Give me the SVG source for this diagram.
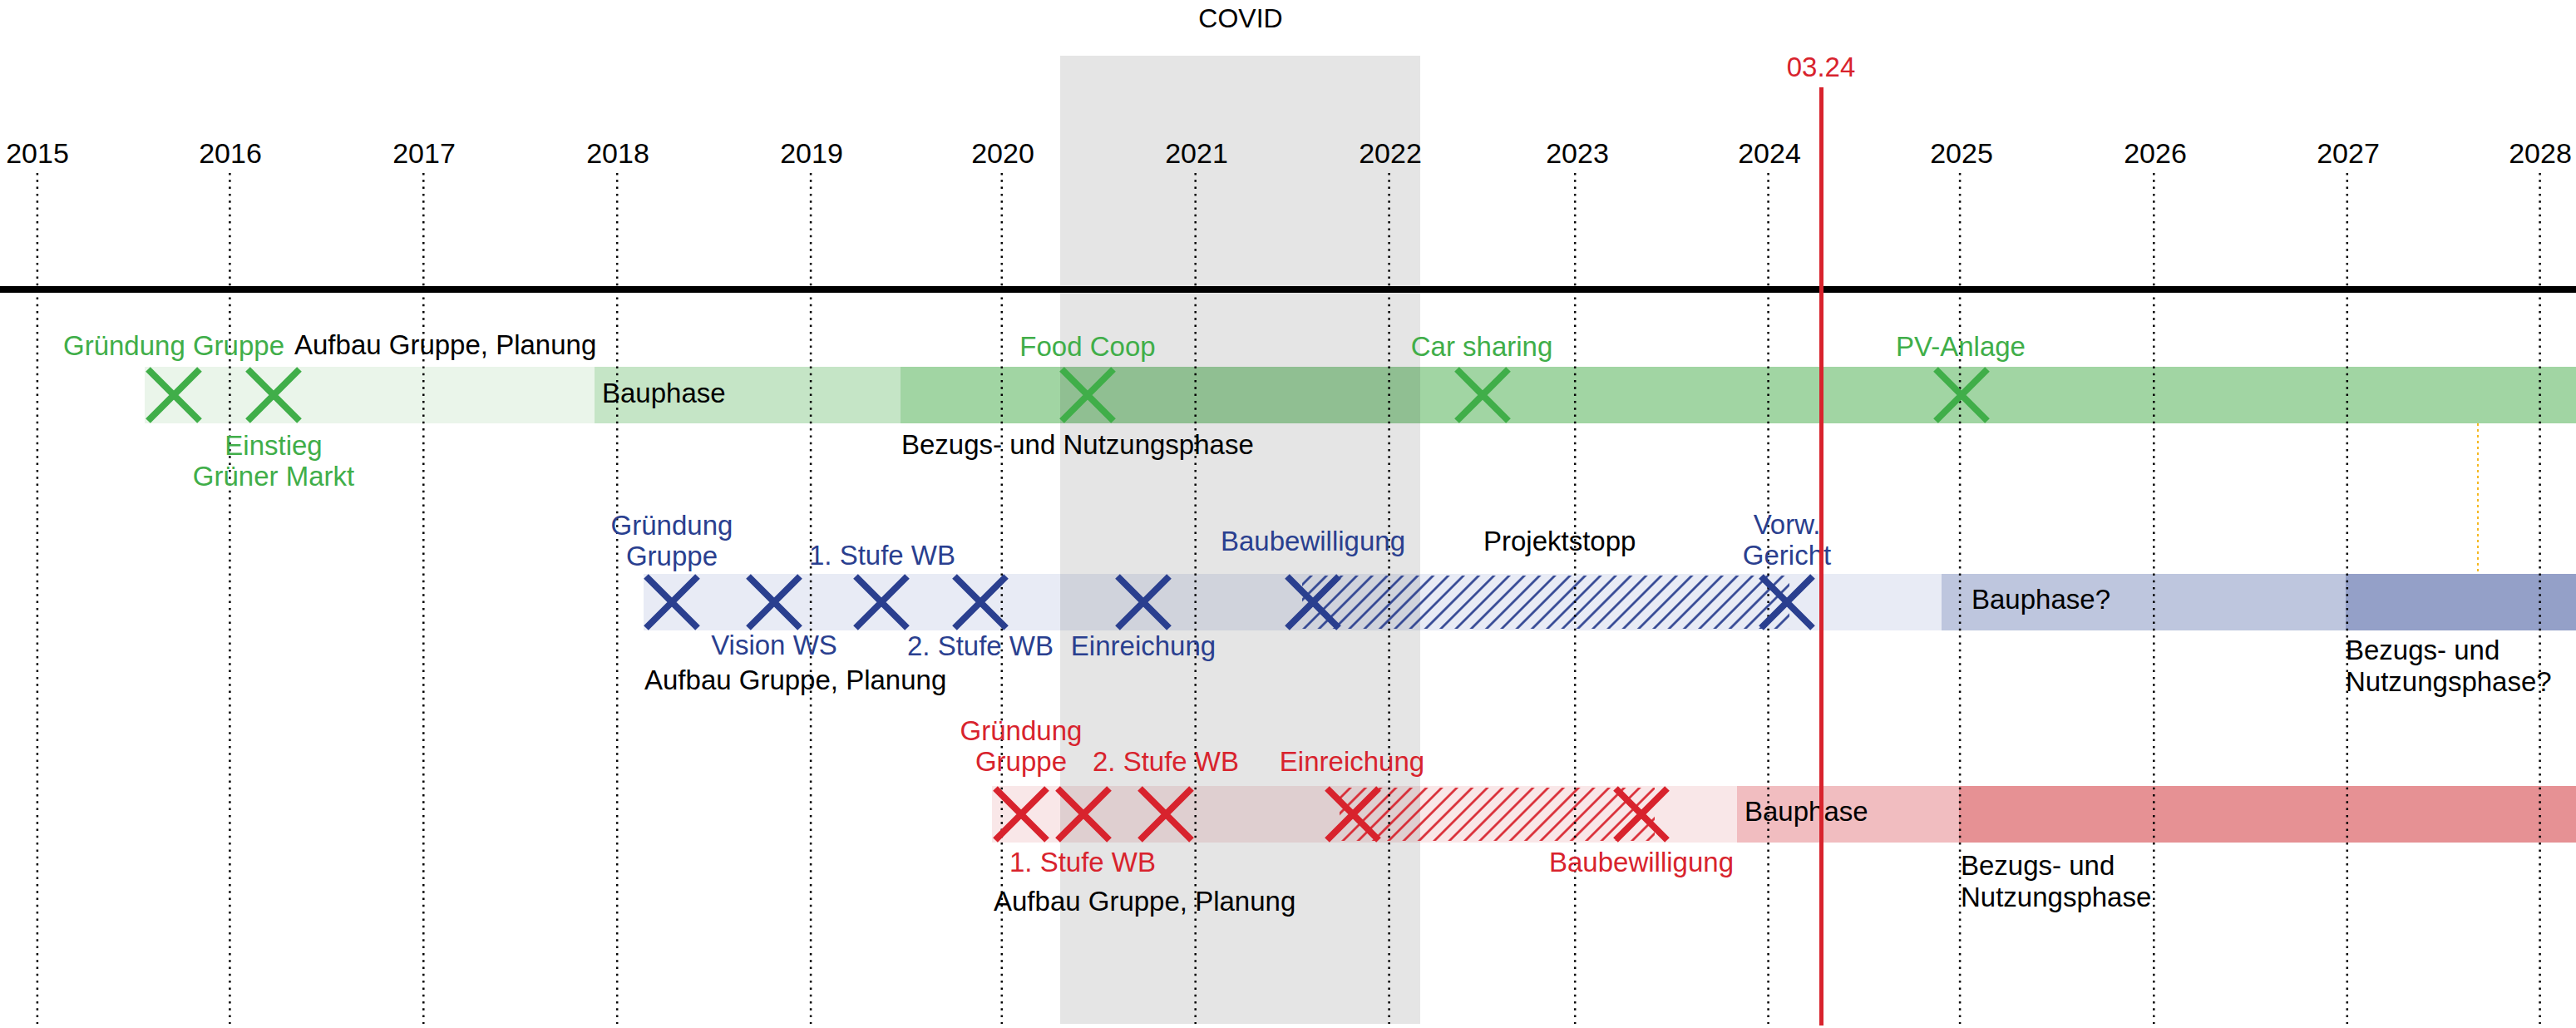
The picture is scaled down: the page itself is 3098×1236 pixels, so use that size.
<svg xmlns="http://www.w3.org/2000/svg" xmlns:xlink="http://www.w3.org/1999/xlink" width="3098" height="1236" viewBox="0 0 3098 1236">
<style>
text{font-family:"Liberation Sans",Arial,sans-serif;font-size:33px;fill:#000}
.yr{font-size:34px;text-anchor:middle}
.m{text-anchor:middle}
.g{fill:#40ae49}.b{fill:#2a3f8f}.r{fill:#d8232d}
.xg{stroke:#40ae49;stroke-width:8;fill:none}
.xb{stroke:#2a3f8f;stroke-width:8;fill:none}
.xr{stroke:#d8232d;stroke-width:8;fill:none}
.dot{stroke:#000;stroke-width:2.5;stroke-dasharray:2.5 5.8;fill:none}
</style>
<defs>
<path id="x" d="M-31,-31L31,31M31,-31L-31,31"/>
<pattern id="hb" patternUnits="userSpaceOnUse" width="12.94" height="40" x="-6.47" patternTransform="rotate(45)">
<line x1="6.47" y1="-5" x2="6.47" y2="45" stroke="#2a3f8f" stroke-width="2.6"/>
</pattern>
<pattern id="hr" patternUnits="userSpaceOnUse" width="12.94" height="40" patternTransform="rotate(45)">
<line x1="6.47" y1="-5" x2="6.47" y2="45" stroke="#d8232d" stroke-width="2.6"/>
</pattern>
</defs>
<rect width="3098" height="1236" fill="#fff"/>

<g id="bars">
<g id="green-bars">
<rect x="174" y="441" width="541" height="68" fill="#eaf5ea"/>
<rect x="715" y="441" width="368" height="68" fill="#c5e5c6"/>
<rect x="1083" y="441" width="2015" height="68" fill="#a1d5a3"/>
</g>
<g id="blue-bars">
<rect x="774" y="690" width="1561" height="68" fill="#e8ebf5"/>
<rect x="2335" y="690" width="486" height="68" fill="#bec6de"/>
<rect x="2821" y="690" width="277" height="68" fill="#94a0c8"/>
</g>
<g id="red-bars">
<rect x="1193" y="945" width="896" height="68" fill="#f9e7e8"/>
<rect x="2089" y="945" width="267" height="68" fill="#f1bdc0"/>
<rect x="2356" y="945" width="742" height="68" fill="#e69194"/>
</g>
</g>

<g id="covid">
<rect x="1275" y="67" width="433" height="1164" fill="#000" fill-opacity="0.102"/>
<text x="1492" y="33" class="m" style="font-size:32px">COVID</text>
</g>

<g id="hatches">
<rect x="1566" y="692" width="586" height="64" fill="url(#hb)"/>
<rect x="1611" y="947" width="379" height="64" fill="url(#hr)"/>
</g>

<g id="year-grid">
<g class="dot">
<line x1="44.9" y1="208" x2="44.9" y2="1231"/>
<line x1="276.4" y1="208" x2="276.4" y2="1231"/>
<line x1="509.3" y1="208" x2="509.3" y2="1231"/>
<line x1="742.2" y1="208" x2="742.2" y2="1231"/>
<line x1="975.1" y1="208" x2="975.1" y2="1231"/>
<line x1="1204.8" y1="208" x2="1204.8" y2="1231"/>
<line x1="1437.7" y1="208" x2="1437.7" y2="1231"/>
<line x1="1670.6" y1="208" x2="1670.6" y2="1231"/>
<line x1="1894.2" y1="208" x2="1894.2" y2="1231"/>
<line x1="2126.6" y1="208" x2="2126.6" y2="1231"/>
<line x1="2357.1" y1="208" x2="2357.1" y2="1231"/>
<line x1="2590.3" y1="208" x2="2590.3" y2="1231"/>
<line x1="2822.8" y1="208" x2="2822.8" y2="1231"/>
<line x1="3054.6" y1="208" x2="3054.6" y2="1231"/>
</g>
<text class="yr" x="45" y="196">2015</text>
<text class="yr" x="277" y="196">2016</text>
<text class="yr" x="510" y="196">2017</text>
<text class="yr" x="743" y="196">2018</text>
<text class="yr" x="976" y="196">2019</text>
<text class="yr" x="1206" y="196">2020</text>
<text class="yr" x="1439" y="196">2021</text>
<text class="yr" x="1672" y="196">2022</text>
<text class="yr" x="1897" y="196">2023</text>
<text class="yr" x="2128" y="196">2024</text>
<text class="yr" x="2359" y="196">2025</text>
<text class="yr" x="2592" y="196">2026</text>
<text class="yr" x="2824" y="196">2027</text>
<text class="yr" x="3055" y="196">2028</text>
</g>

<g id="connectors">
<line id="axis" x1="0" y1="348" x2="3098" y2="348" stroke="#000" stroke-width="8"/>
<line id="yellow-link" x1="2980" y1="509" x2="2980" y2="690" stroke="#f6b820" stroke-width="2" stroke-dasharray="3 4"/>
</g>

<g id="green-track">
<g id="g-gruendung"><use xlink:href="#x" x="209" y="475" class="xg"/><text class="m g" x="209" y="427">Gründung Gruppe</text></g>
<g id="g-einstieg"><use xlink:href="#x" x="329" y="475" class="xg"/><text class="m g" x="329" y="547">Einstieg</text><text class="m g" x="329" y="584">Grüner Markt</text></g>
<g id="g-foodcoop"><use xlink:href="#x" x="1308" y="475" class="xg"/><text class="m g" x="1308" y="428">Food Coop</text></g>
<g id="g-carsharing"><use xlink:href="#x" x="1783" y="475" class="xg"/><text class="m g" x="1782" y="428">Car sharing</text></g>
<g id="g-pv"><use xlink:href="#x" x="2359" y="475" class="xg"/><text class="m g" x="2358" y="428">PV-Anlage</text></g>
<text x="354" y="426">Aufbau Gruppe, Planung</text>
<text x="724" y="484">Bauphase</text>
<text x="1084" y="546">Bezugs- und Nutzungsphase</text>
</g>

<g id="blue-track">
<g id="b-gruendung"><use xlink:href="#x" x="808" y="724" class="xb"/><text class="m b" x="808" y="643">Gründung</text><text class="m b" x="808" y="680">Gruppe</text></g>
<g id="b-vision"><use xlink:href="#x" x="931" y="724" class="xb"/><text class="m b" x="931" y="787">Vision WS</text></g>
<g id="b-stufe1"><use xlink:href="#x" x="1060" y="724" class="xb"/><text class="m b" x="1061" y="679">1. Stufe WB</text></g>
<g id="b-stufe2"><use xlink:href="#x" x="1179" y="724" class="xb"/><text class="m b" x="1179" y="788">2. Stufe WB</text></g>
<g id="b-einreichung"><use xlink:href="#x" x="1375" y="724" class="xb"/><text class="m b" x="1375" y="788">Einreichung</text></g>
<g id="b-baubewilligung"><use xlink:href="#x" x="1579" y="724" class="xb"/><text class="m b" x="1579" y="662">Baubewilligung</text></g>
<g id="b-gericht"><use xlink:href="#x" x="2149" y="724" class="xb"/><text class="m b" x="2149" y="642">Vorw.</text><text class="m b" x="2149" y="679">Gericht</text></g>
<text x="775" y="829">Aufbau Gruppe, Planung</text>
<text x="1784" y="662">Projektstopp</text>
<text x="2371" y="732">Bauphase?</text>
<text x="2821" y="793">Bezugs- und</text>
<text x="2821" y="831">Nutzungsphase?</text>
</g>

<g id="red-track">
<g id="r-gruendung"><use xlink:href="#x" x="1228" y="979" class="xr"/><text class="m r" x="1228" y="890">Gründung</text><text class="m r" x="1228" y="927">Gruppe</text></g>
<g id="r-stufe1"><use xlink:href="#x" x="1303" y="979" class="xr"/><text class="m r" x="1302" y="1048">1. Stufe WB</text></g>
<g id="r-stufe2"><use xlink:href="#x" x="1402" y="979" class="xr"/><text class="m r" x="1402" y="927">2. Stufe WB</text></g>
<g id="r-einreichung"><use xlink:href="#x" x="1627" y="979" class="xr"/><text class="m r" x="1626" y="927">Einreichung</text></g>
<g id="r-baubewilligung"><use xlink:href="#x" x="1974" y="979" class="xr"/><text class="m r" x="1974" y="1048">Baubewilligung</text></g>
<text x="1195" y="1095">Aufbau Gruppe, Planung</text>
<text x="2098" y="987">Bauphase</text>
<text x="2358" y="1052">Bezugs- und</text>
<text x="2358" y="1090">Nutzungsphase</text>
</g>

<g id="today">
<line x1="2190.5" y1="105" x2="2190.5" y2="1233" stroke="#d8232d" stroke-width="5"/>
<text class="m r" x="2190" y="92">03.24</text>
</g>
</svg>
